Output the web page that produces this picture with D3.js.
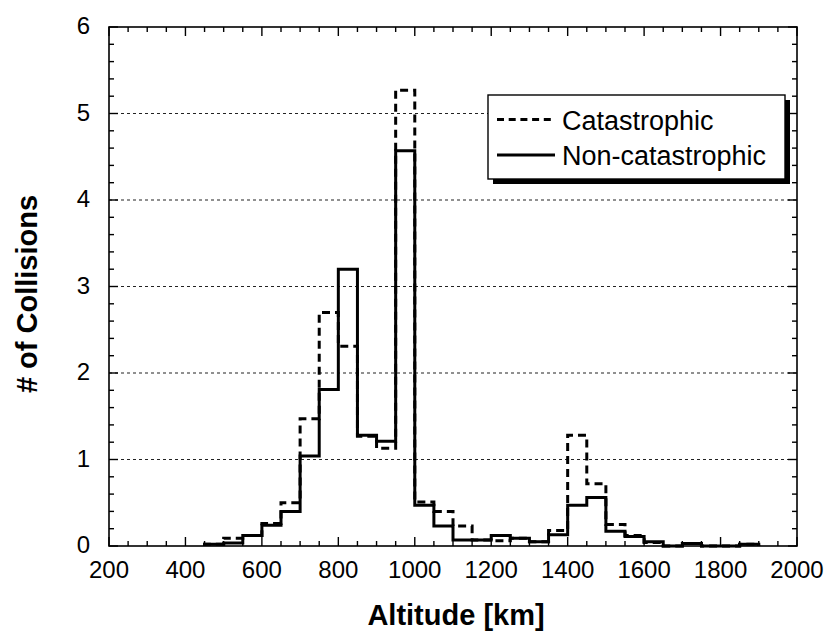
<!DOCTYPE html>
<html>
<head>
<meta charset="utf-8">
<script src="https://cdn.jsdelivr.net/npm/d3@7"></script>
<style>
body { margin: 0; background: white; }
text { font-family: "Liberation Sans", Arial, sans-serif; }
</style>
</head>
<body>
<script>
// bin edges every 50 km, from 450 to 1900
const binStart = 450;
const binWidth = 50;
const catastrophic = [0.02, 0.09, 0.12, 0.26, 0.50, 1.47, 2.70, 2.31, 1.27, 1.13, 5.27,
	0.51, 0.40, 0.23, 0.07, 0.06, 0.09, 0.05, 0.18, 1.28, 0.72, 0.25, 0.12, 0.04,
	0, 0.03, 0, 0, 0.02];
const nonCatastrophic = [0.02, 0.035, 0.12, 0.24, 0.40, 1.04, 1.81, 3.20, 1.28, 1.21, 4.57,
	0.47, 0.23, 0.07, 0.07, 0.12, 0.09, 0.05, 0.13, 0.47, 0.56, 0.17, 0.11, 0.05,
	0, 0.03, 0, 0, 0.02];
const xTicks = [200, 400, 600, 800, 1000, 1200, 1400, 1600, 1800, 2000];
const yTicks = [0, 1, 2, 3, 4, 5, 6];
const seriesNames = ["Catastrophic", "Non-catastrophic"];

const W = 830, H = 632;
const plotL = 109, plotR = 797, plotT = 27, plotB = 546;

const x = d3.scaleLinear().domain([200, 2000]).range([plotL, plotR]);
const y = d3.scaleLinear().domain([0, 6]).range([plotB, plotT]);

const svg = d3.select("body").append("svg")
	.attr("width", W)
	.attr("height", H);

// dotted grid lines
svg.append("g")
	.selectAll("line")
	.data(yTicks.filter(d => d > 0 && d < 6))
	.join("line")
	.attr("x1", plotL).attr("x2", plotR)
	.attr("y1", d => y(d)).attr("y2", d => y(d))
	.attr("stroke", "#222")
	.attr("stroke-width", 1.2)
	.attr("stroke-dasharray", "3,3");

// step path from bin values
function stepPoints(vals) {
	const pts = [[binStart, 0]];
	vals.forEach((v, i) => {
		const a = binStart + i * binWidth;
		pts.push([a, v], [a + binWidth, v]);
	});
	pts.push([binStart + vals.length * binWidth, 0]);
	return pts;
}
const line = d3.line().x(d => x(d[0])).y(d => y(d[1]));

svg.append("path")
	.attr("d", line(stepPoints(catastrophic)))
	.attr("fill", "none")
	.attr("stroke", "black")
	.attr("stroke-width", 3)
	.attr("stroke-dasharray", "8,5");

svg.append("path")
	.attr("d", line(stepPoints(nonCatastrophic)))
	.attr("fill", "none")
	.attr("stroke", "black")
	.attr("stroke-width", 3);

// frame
svg.append("rect")
	.attr("x", plotL).attr("y", plotT)
	.attr("width", plotR - plotL).attr("height", plotB - plotT)
	.attr("fill", "none")
	.attr("stroke", "black")
	.attr("stroke-width", 1.6);

// ticks on all four sides, pointing inward
const xMinor = d3.range(200, 2001, 50);
const yMinor = d3.range(0, 6.001, 0.2);
const isMajX = d => d % 200 === 0;
const isMajY = d => Math.abs(d - Math.round(d)) < 1e-6;
const ticks = svg.append("g").attr("stroke", "black").attr("stroke-width", 1.4);
ticks.append("g").selectAll("line").data(xMinor).join("line")
	.attr("x1", d => x(d)).attr("x2", d => x(d))
	.attr("y1", plotB).attr("y2", d => plotB - (isMajX(d) ? 9 : 5));
ticks.append("g").selectAll("line").data(xMinor).join("line")
	.attr("x1", d => x(d)).attr("x2", d => x(d))
	.attr("y1", plotT).attr("y2", d => plotT + (isMajX(d) ? 9 : 5));
ticks.append("g").selectAll("line").data(yMinor).join("line")
	.attr("y1", d => y(d)).attr("y2", d => y(d))
	.attr("x1", plotL).attr("x2", d => plotL + (isMajY(d) ? 9 : 5));
ticks.append("g").selectAll("line").data(yMinor).join("line")
	.attr("y1", d => y(d)).attr("y2", d => y(d))
	.attr("x1", plotR).attr("x2", d => plotR - (isMajY(d) ? 9 : 5));

// tick labels
svg.append("g")
	.selectAll("text")
	.data(xTicks)
	.join("text")
	.attr("x", d => x(d))
	.attr("y", plotB + 32)
	.attr("text-anchor", "middle")
	.attr("font-size", 24)
	.text(d => d);

svg.append("g")
	.selectAll("text")
	.data(yTicks)
	.join("text")
	.attr("x", plotL - 19)
	.attr("y", d => y(d) + 7)
	.attr("text-anchor", "end")
	.attr("font-size", 24)
	.text(d => d);

// axis titles
svg.append("text")
	.attr("x", 456)
	.attr("y", 625)
	.attr("text-anchor", "middle")
	.attr("font-size", 29)
	.attr("font-weight", "bold")
	.text("Altitude [km]");

svg.append("text")
	.attr("transform", "translate(37, 294) rotate(-90)")
	.attr("text-anchor", "middle")
	.attr("font-size", 29)
	.attr("font-weight", "bold")
	.text("# of Collisions");

// legend with drop shadow
const lg = svg.append("g").attr("transform", "translate(488, 95)");
const lw = 297, lh = 84;
lg.append("rect")
	.attr("x", 5).attr("y", 5)
	.attr("width", lw).attr("height", lh)
	.attr("fill", "black");
lg.append("rect")
	.attr("width", lw).attr("height", lh)
	.attr("fill", "white")
	.attr("stroke", "black")
	.attr("stroke-width", 1.4);
seriesNames.forEach((name, i) => {
	const cy = 24.5 + i * 35.5;
	lg.append("line")
		.attr("x1", 9).attr("x2", 67)
		.attr("y1", cy).attr("y2", cy)
		.attr("stroke", "black")
		.attr("stroke-width", 3)
		.attr("stroke-dasharray", i === 0 ? "7,4.7" : null);
	lg.append("text")
		.attr("x", 74)
		.attr("y", 35 + i * 35)
		.attr("font-size", 27)
		.text(name);
});
</script>
</body>
</html>
